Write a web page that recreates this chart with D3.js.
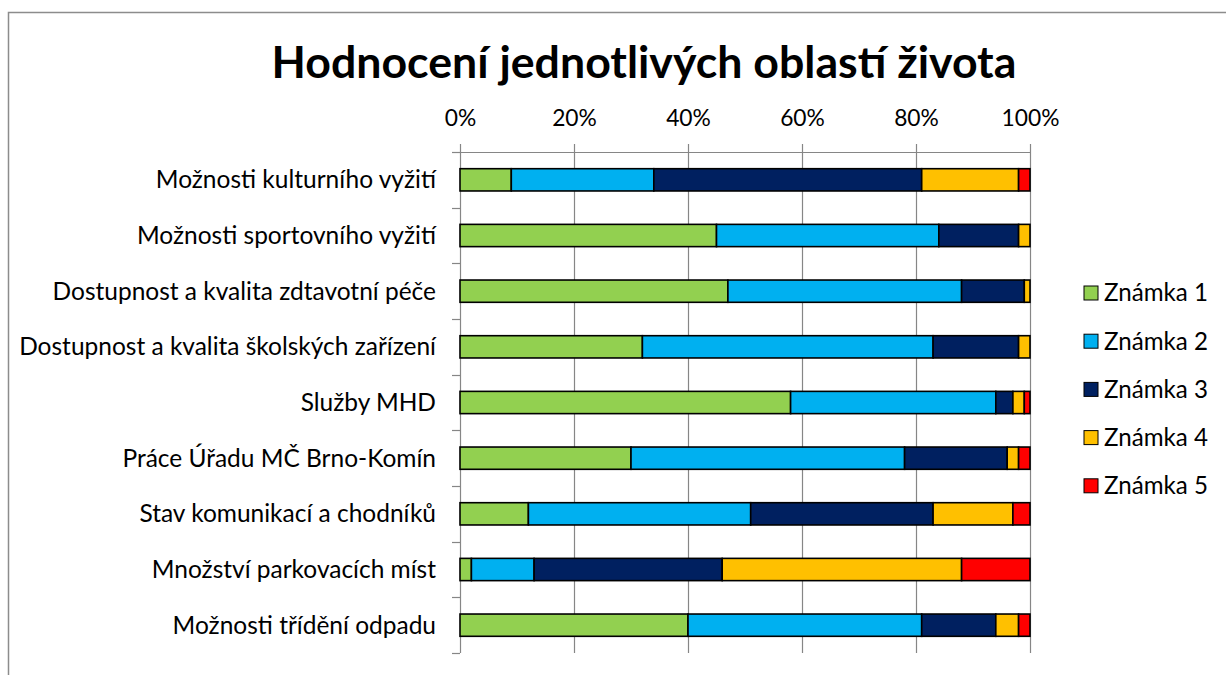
<!DOCTYPE html>
<html>
<head>
<meta charset="utf-8">
<script src="https://cdn.jsdelivr.net/npm/d3@7"></script>
<style>
  body { margin: 0; background: #fff; }
  svg { display: block; font-family: Lato, "Open Sans", sans-serif; }
</style>
</head>
<body>
<svg width="1226" height="675"></svg>
<script>
var categories = [
    'Možnosti kulturního vyžití',
    'Možnosti sportovního vyžití',
    'Dostupnost a kvalita zdtavotní péče',
    'Dostupnost a kvalita školských zařízení',
    'Služby MHD',
    'Práce Úřadu MČ Brno-Komín',
    'Stav komunikací a chodníků',
    'Množství parkovacích míst',
    'Možnosti třídění odpadu'
];
var seriesNames = ['Známka 1', 'Známka 2', 'Známka 3', 'Známka 4', 'Známka 5'];
var seriesColors = ['#92D050', '#00B0F0', '#002060', '#FFC000', '#FF0000'];
// percentages per category, in series order
var znamka1 = [9, 45, 47, 32, 58, 30, 12, 2, 40];
var znamka2 = [25, 39, 41, 51, 36, 48, 39, 11, 41];
var znamka3 = [47, 14, 11, 15, 3, 18, 32, 33, 13];
var znamka4 = [17, 2, 1, 2, 2, 2, 14, 42, 4];
var znamka5 = [2, 0, 0, 0, 1, 2, 3, 12, 2];
var xTicks = [0, 0.2, 0.4, 0.6, 0.8, 1];

var svg = d3.select('svg');
var margin = {top: 152, left: 460, right: 196, bottom: 22};
var width = 1226 - margin.left - margin.right;
var height = 675 - margin.top - margin.bottom;
var axisColor = '#868686';

// chart border (runs off the right and bottom edge)
svg.append('rect')
    .attr('x', 8.5).attr('y', 12.5)
    .attr('width', 1240).attr('height', 700)
    .attr('fill', 'none').attr('stroke', '#8c8c8c').attr('stroke-width', 1.5);

// title, fitted to the reference width
var title = svg.append('text')
    .attr('x', 644).attr('y', 78)
    .attr('text-anchor', 'middle')
    .attr('font-weight', 'bold')
    .attr('font-size', 38)
    .attr('fill', '#000')
    .text('Hodnocení jednotlivých oblastí života');
fitWidth(title, 745, 38);

var rows = categories.map(function (c, i) {
    return {cat: c, 1: znamka1[i], 2: znamka2[i], 3: znamka3[i], 4: znamka4[i], 5: znamka5[i]};
});
var keys = [1, 2, 3, 4, 5];
var stacked = d3.stack().keys(keys)
    .offset(d3.stackOffsetExpand)(rows);

var x = d3.scaleLinear().domain([0, 1]).range([0, width]);
var y = d3.scaleBand().domain(categories).range([0, height]).paddingInner(0.6).paddingOuter(0.3);

var g = svg.append('g').attr('transform', 'translate(' + margin.left + ',' + margin.top + ')');

// vertical gridlines
g.selectAll('.grid')
    .data(xTicks.slice(1))
    .enter().append('line')
    .attr('x1', function (d) { return Math.round(x(d)) + 0.5; })
    .attr('x2', function (d) { return Math.round(x(d)) + 0.5; })
    .attr('y1', 0).attr('y2', height)
    .attr('stroke', axisColor).attr('stroke-width', 1.2);

// top axis
var xAxis = g.append('g')
    .call(d3.axisTop(x).tickValues(xTicks).tickFormat(d3.format('.0%')).tickSize(8).tickSizeOuter(0))
    .call(function (a) {
        a.select('.domain').attr('stroke', axisColor).attr('stroke-width', 1.2);
        a.selectAll('.tick line').attr('stroke', axisColor).attr('stroke-width', 1.2);
        a.selectAll('text').attr('font-size', 22).attr('fill', '#000')
            .attr('font-family', 'Lato, sans-serif').attr('y', -26);
    });
fitWidth(xAxis.selectAll('text').filter(function (d) { return d === 1; }), 58, 22, xAxis.selectAll('text'));

// left category axis (ticks between categories)
var bounds = d3.range(categories.length + 1).map(function (i) { return i * height / categories.length; });
g.append('line')
    .attr('x1', 0.5).attr('x2', 0.5).attr('y1', 0).attr('y2', height)
    .attr('stroke', axisColor).attr('stroke-width', 1.2);
g.selectAll('.ctick')
    .data(bounds)
    .enter().append('line')
    .attr('x1', -8).attr('x2', 0)
    .attr('y1', function (d) { return Math.round(d) + 0.5; })
    .attr('y2', function (d) { return Math.round(d) + 0.5; })
    .attr('stroke', axisColor).attr('stroke-width', 1.2);

var labels = g.selectAll('.clabel')
    .data(categories)
    .enter().append('text')
    .attr('x', -24)
    .attr('y', function (d) { return y(d) + y.bandwidth() / 2; })
    .attr('dy', '0.35em')
    .attr('text-anchor', 'end')
    .attr('font-size', 21)
    .attr('fill', '#000')
    .text(function (d) { return d; });
fitWidth(labels.filter(function (d, i) { return i === 3; }), 417, 21, labels);

// bars
g.selectAll('.series')
    .data(stacked)
    .enter().append('g')
    .attr('fill', function (d, i) { return seriesColors[i]; })
    .selectAll('rect')
    .data(function (d) { return d; })
    .enter().append('rect')
    .filter(function (d) { return d[1] - d[0] > 0; })
    .attr('x', function (d) { return x(d[0]); })
    .attr('width', function (d) { return x(d[1]) - x(d[0]); })
    .attr('y', function (d) { return y(d.data.cat); })
    .attr('height', y.bandwidth())
    .attr('stroke', '#000').attr('stroke-width', 1.6);

// legend
var legend = svg.append('g').attr('transform', 'translate(1084,293)');
var item = legend.selectAll('g')
    .data(seriesNames)
    .enter().append('g')
    .attr('transform', function (d, i) { return 'translate(0,' + (i * 48.2) + ')'; });
item.append('rect')
    .attr('x', 0).attr('y', -7).attr('width', 14).attr('height', 14)
    .attr('fill', function (d, i) { return seriesColors[i]; })
    .attr('stroke', '#000').attr('stroke-width', 1);
var legendText = item.append('text')
    .attr('x', 20).attr('dy', '0.35em')
    .attr('font-size', 22).attr('fill', '#000')
    .text(function (d) { return d; });
fitWidth(legendText.filter(function (d, i) { return i === 0; }), 104, 22, legendText);

function fitWidth(sel, target, size, applyTo) {
    var w = sel.node().getComputedTextLength();
    var s = size * target / w;
    (applyTo || sel).attr('font-size', s);
}
</script>
</body>
</html>
